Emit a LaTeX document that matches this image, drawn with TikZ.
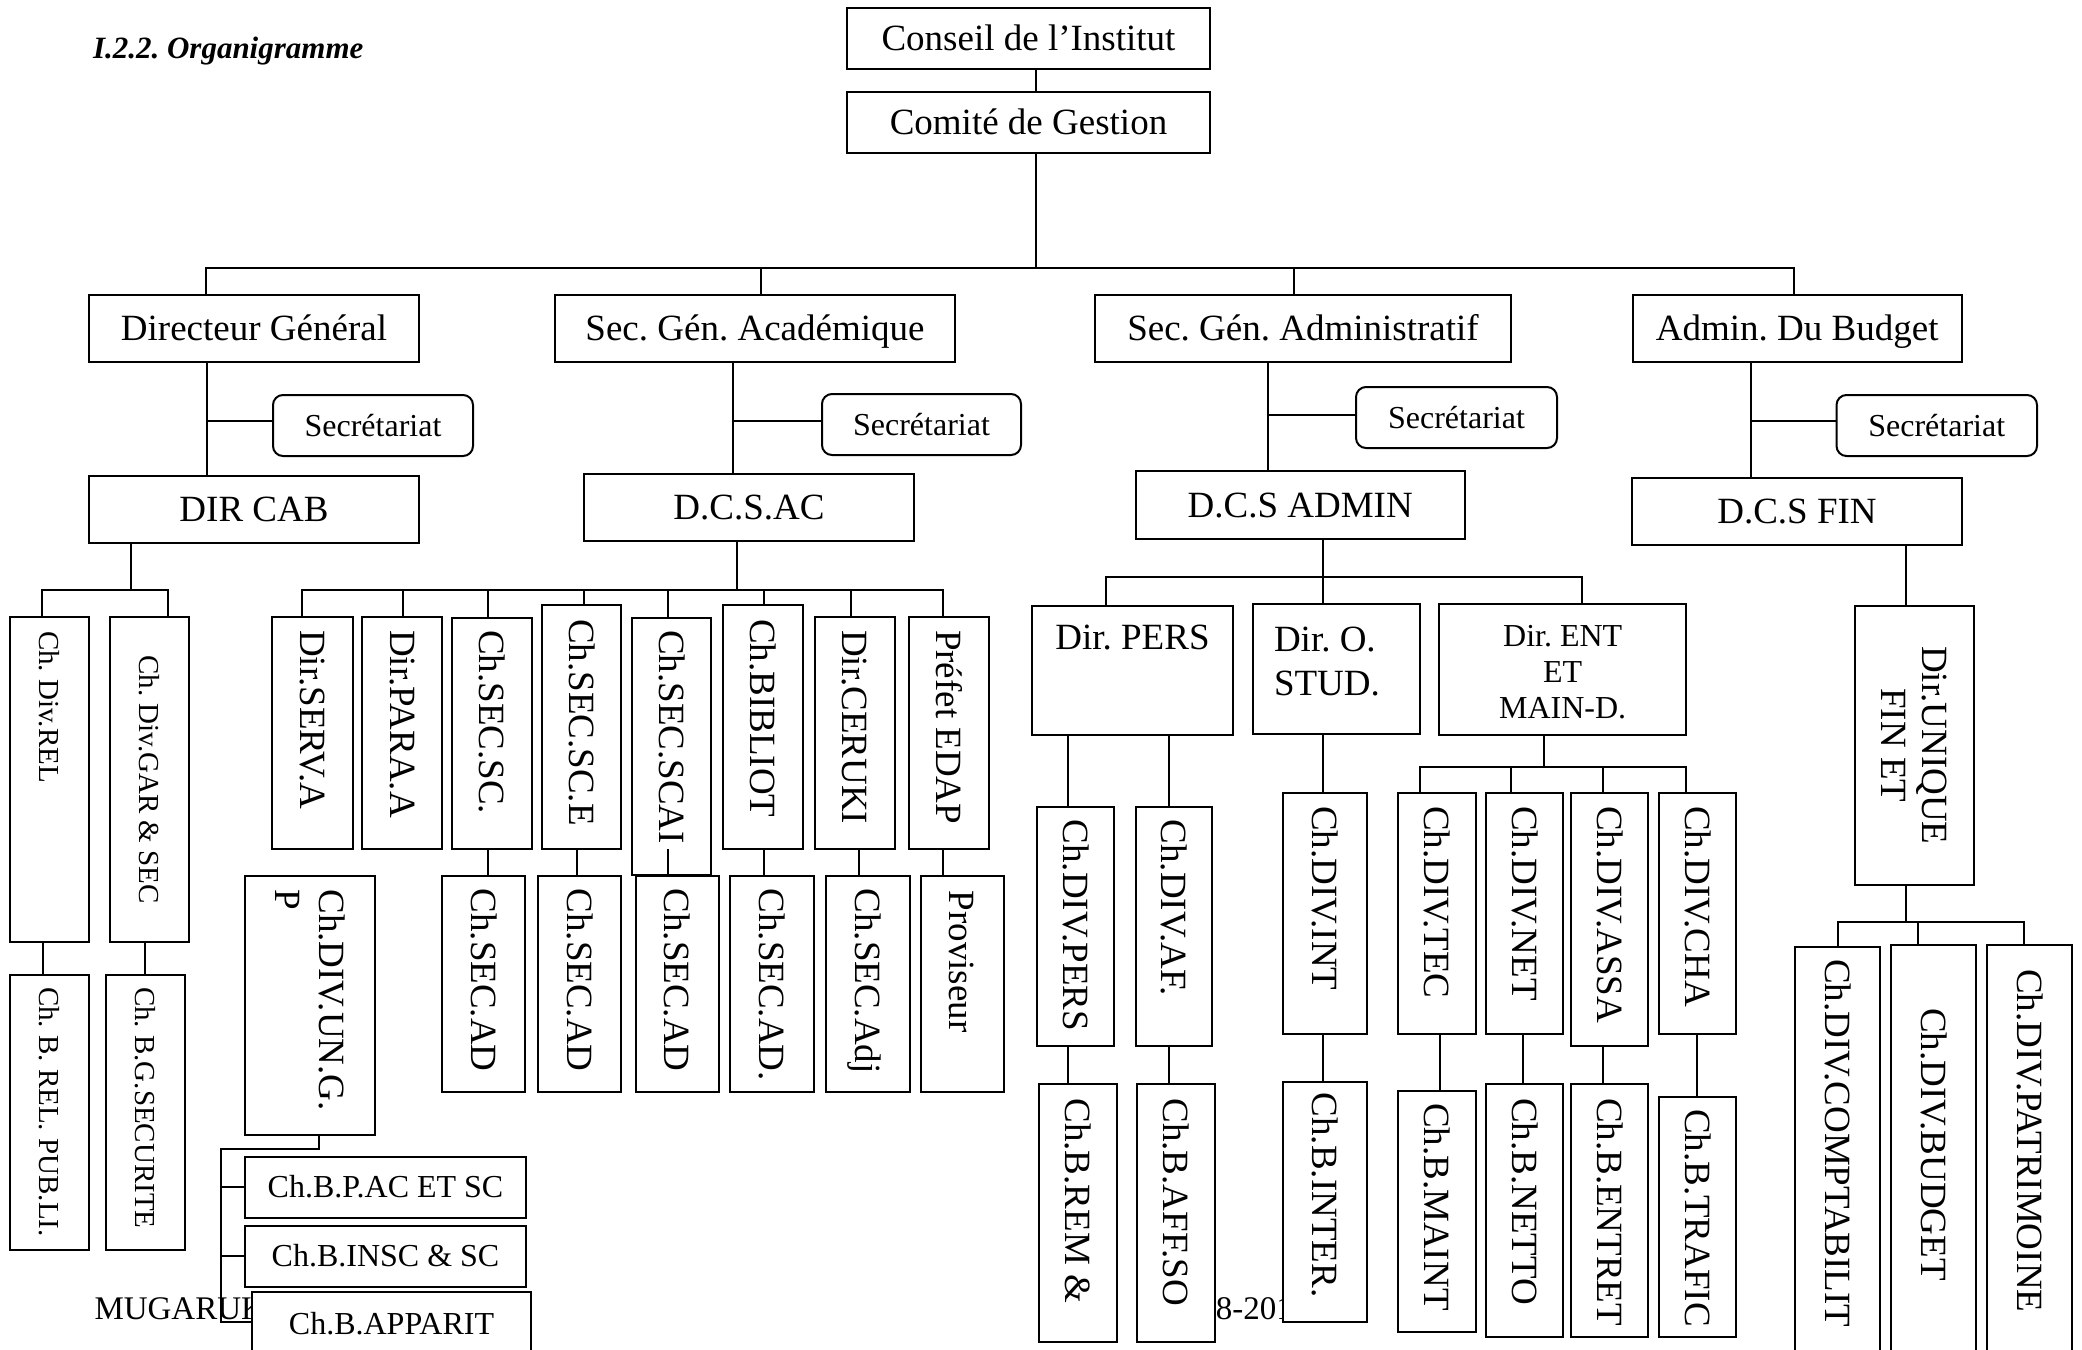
\documentclass[tikz,border=0pt]{standalone}
\usepackage{fontspec}
\setmainfont{Liberation Serif}
\frenchspacing
\newcommand\obox[7][]{\node[box,#1,anchor=north west,minimum width={(#5-#3)*0.5pt},minimum height={(#6-#4)*0.5pt}] (#2) at (#3,#4) {#7};}
\newcommand\vlab[4][]{\node[vt,#1] (#2-t) at ([yshift=-#3pt]#2.north) {#4};}
\begin{document}
\begin{tikzpicture}[x=0.5pt,y=-0.5pt,line width=1pt,
  box/.style={draw,fill=white,rectangle,inner sep=0pt,outer sep=0pt},
  rbox/.style={rounded corners=5pt},
  vt/.style={rotate=-90,anchor=west,inner sep=0pt},
  vtc/.style={rotate=-90,inner sep=0pt,align=center},
  bigf/.style={font=\fontsize{18.5}{22}\selectfont},
  big/.style={bigf,text height=12.2pt,text depth=0pt},
  mid/.style={font=\fontsize{16}{18}\selectfont,text height=10.6pt,text depth=0pt},
  sml/.style={font=\fontsize{14.5}{17}\selectfont,text height=9.6pt,text depth=0pt},
  foot/.style={font=\fontsize{16.5}{19}\selectfont,anchor=base west,inner sep=0pt}]
\useasboundingbox (0,0) rectangle (2082,1349);
\clip (0,0) rectangle (2082,1349);
\fill[white] (0,0) rectangle (2082,1349);
% title and footer
\node[anchor=base west,inner sep=0pt,font=\fontsize{15.5}{18}\selectfont\bfseries\itshape] (title) at (92,58) {I.2.2. Organigramme};
\node[foot] (foot1) at (93.5,1319) {MUGARUK};
\node[foot] (foot2) at (1214.8,1319) {8-201};
% top levels
\obox[big]{conseil}{847}{8}{1210}{69}{Conseil de l’Institut}
\obox[big]{comite}{847}{92}{1210}{153}{Comité de Gestion}
\obox[big]{dg}{89}{295}{419}{362}{Directeur Général}
\obox[big]{sga}{555}{295}{955}{362}{Sec. Gén. Académique}
\obox[big]{sgadm}{1095}{295}{1511}{362}{Sec. Gén. Administratif}
\obox[big]{ab}{1632.5}{295}{1962}{362}{Admin. Du Budget}
\obox[rbox,mid]{sdg}{273}{395}{473}{456}{Secrétariat}
\obox[rbox,mid]{ssga}{822}{394}{1021}{455}{Secrétariat}
\obox[rbox,mid]{ssgadm}{1356}{387}{1557}{448}{Secrétariat}
\obox[rbox,mid]{sab}{1836.5}{395}{2037}{456}{Secrétariat}
\obox[big]{dircab}{89}{476}{419}{543}{DIR CAB}
\obox[big]{dcsac}{584}{474}{914}{541}{D.C.S.AC}
\obox[big]{dcsadmin}{1135.5}{471}{1465}{539}{D.C.S ADMIN}
\obox[big]{dcsfin}{1632}{478}{1962}{545}{D.C.S FIN}
% DIR CAB group
\obox{rel}{9.6}{617}{89}{942}{}
\vlab[sml]{rel}{6.5}{Ch. Div.REL}
\obox{gar}{110}{617}{189}{942}{}
\node[vtc,sml] (gar-t) at (gar.center) {Ch. Div.GAR \& SEC};
\obox{brel}{9.6}{975}{89}{1250}{}
\vlab[sml]{brel}{5.5}{Ch. B. REL. PUB.LI.}
\obox{bgsec}{106}{975}{185}{1250}{}
\vlab[sml]{bgsec}{5.5}{Ch. B.G.SECURITE}
% D.C.S.AC group
\obox{serv}{272.4}{617}{353}{849}{}
\vlab[big]{serv}{6}{Dir.SERV.A}
\obox{para}{362.4}{617}{442}{849}{}
\vlab[big]{para}{6}{Dir.PARA.A}
\obox{secsc}{452}{618}{531.5}{849}{}
\vlab[big]{secsc}{5.5}{Ch.SEC.SC.}
\obox{secsce}{542}{605}{621}{849}{}
\vlab[big]{secsce}{6.5}{Ch.SEC.SC.E}
\obox{scai}{631.5}{618}{711}{874.5}{}
\vlab[big]{scai}{5.5}{Ch.SEC.SCAI}
\obox{biblio}{723}{605}{802.6}{849}{}
\vlab[big]{biblio}{6.5}{Ch.BIBLIOT}
\obox{ceruki}{815}{617}{894.6}{849}{}
\vlab[big]{ceruki}{6}{Dir.CERUKI}
\obox{prefet}{909}{617}{989}{849}{}
\vlab[big]{prefet}{6}{Préfet EDAP}
\obox{ad1}{442}{875.6}{525}{1091.6}{}
\vlab[big]{ad1}{6}{Ch.SEC.AD}
\obox{ad2}{538}{875.6}{621}{1091.6}{}
\vlab[big]{ad2}{6}{Ch.SEC.AD}
\obox{ad3}{635.5}{875.6}{718.5}{1091.6}{}
\vlab[big]{ad3}{6}{Ch.SEC.AD}
\obox{ad4}{730}{875.6}{813.6}{1091.6}{}
\vlab[big]{ad4}{6}{Ch.SEC.AD.}
\obox{adj}{826}{875.6}{909.6}{1091.6}{}
\vlab[big]{adj}{6}{Ch.SEC.Adj}
\obox{prov}{920.5}{875.6}{1003.6}{1091.6}{}
\vlab[big]{prov}{7}{Proviseur}
\obox{ung}{245}{875.5}{375}{1135}{}
\node[vt,bigf,align=left] (ung-t) at ([yshift=-6.5pt]ung.north) {Ch.DIV.UN.G.\\P};
\obox[mid]{bpac}{245}{1156.6}{526}{1217.5}{Ch.B.P.AC ET SC}
\obox[mid]{binsc}{245}{1226}{526}{1286.6}{Ch.B.INSC \& SC}
\obox[mid]{bapp}{252}{1292}{531}{1356}{Ch.B.APPARIT}
% D.C.S ADMIN group
\obox{pers}{1032}{605.5}{1233}{735}{}
\node[anchor=base,inner sep=0pt,bigf] (pers-t) at (1132.5,649) {Dir. PERS};
\obox{ostud}{1252.5}{603.5}{1419.6}{733.5}{}
\node[anchor=north west,inner sep=0pt,bigf,align=left] (ostud-t) at (1273,626) {Dir. O.\\STUD.};
\obox{ent}{1439.4}{603.5}{1686}{735}{}
\node[anchor=north,inner sep=0pt,font=\fontsize{16}{18}\selectfont,align=center] (ent-t) at (1562.7,624) {Dir. ENT\\ET\\MAIN-D.};
\obox{divpers}{1036.8}{806.8}{1114}{1045.7}{}
\vlab[big]{divpers}{6}{Ch.DIV.PERS}
\obox{divaf}{1135.5}{806.8}{1212.4}{1045.7}{}
\vlab[big]{divaf}{6}{Ch.DIV.AF.}
\obox{brem}{1039}{1084.4}{1116.6}{1342}{}
\vlab[big]{brem}{6.5}{Ch.B.REM \&}
\obox{baff}{1137}{1084.4}{1214.8}{1342}{}
\vlab[big]{baff}{6.5}{Ch.B.AFF.SO}
\obox{divint}{1283}{793}{1367}{1034}{}
\vlab[big]{divint}{6}{Ch.DIV.INT}
\obox{binter}{1283}{1081.8}{1367}{1321.7}{}
\vlab[big]{binter}{5}{Ch.B.INTER.}
\obox{tec}{1398}{793}{1475.8}{1034}{}
\vlab[big]{tec}{6}{Ch.DIV.TEC}
\obox{net}{1486}{793}{1563}{1034}{}
\vlab[big]{net}{6}{Ch.DIV.NET}
\obox{assa}{1571}{793}{1648}{1045.7}{}
\vlab[big]{assa}{6}{Ch.DIV.ASSA}
\obox{cha}{1658.5}{793}{1736}{1034}{}
\vlab[big]{cha}{6}{Ch.DIV.CHA}
\obox{maint}{1398}{1091}{1476}{1332}{}
\vlab[big]{maint}{5.5}{Ch.B.MAINT}
\obox{netto}{1486}{1084}{1563}{1337}{}
\vlab[big]{netto}{6.5}{Ch.B.NETTO}
\obox{entret}{1571}{1084}{1648}{1337}{}
\vlab[big]{entret}{6.5}{Ch.B.ENTRET}
\obox{trafic}{1658.5}{1097}{1736}{1337}{}
\vlab[big]{trafic}{5.5}{Ch.B.TRAFIC}
% D.C.S FIN group
\obox{uniq}{1854.7}{606}{1974}{884.7}{}
\node[vtc,font=\fontsize{18.5}{20.5}\selectfont] (uniq-t) at (uniq.center) {Dir.UNIQUE\\FIN ET};
\obox{compt}{1795}{946.6}{1880}{1360}{}
\vlab[big]{compt}{5.7}{Ch.DIV.COMPTABILIT}
\obox{budget}{1890.7}{945}{1976}{1360}{}
\vlab[big]{budget}{31}{Ch.DIV.BUDGET}
\obox{patri}{1986.7}{945}{2072}{1360}{}
\vlab[big]{patri}{11.5}{Ch.DIV.PATRIMOINE}
% ---------- connectors ----------
\coordinate (tc) at (1036,268);
\coordinate (tb1) at (206,268);
\coordinate (tb2) at (1794,268);
\coordinate (t2) at (761,268);
\coordinate (t3) at (1293.5,268);
\draw (conseil.south -| tc) -- (comite.north -| tc);
\draw (comite.south -| tc) -- (tc);
\draw (dg.north -| tb1) |- (tb2) -- (ab.north -| tb2);
\draw (sga.north -| t2) -- (t2);
\draw (sgadm.north -| t3) -- (t3);
% trunks with secretariats
\coordinate (k1) at (206.5,421);
\coordinate (k2) at (733,421);
\coordinate (k3) at (1268,415);
\coordinate (k4) at (1751,421);
\draw (dg.south -| k1) -- (dircab.north -| k1);
\draw (k1) -- (sdg.west |- k1);
\draw (sga.south -| k2) -- (dcsac.north -| k2);
\draw (k2) -- (ssga.west |- k2);
\draw (sgadm.south -| k3) -- (dcsadmin.north -| k3);
\draw (k3) -- (ssgadm.west |- k3);
\draw (ab.south -| k4) -- (dcsfin.north -| k4);
\draw (k4) -- (sab.west |- k4);
% DIR CAB
\coordinate (d0) at (131,590);
\coordinate (d1) at (42,590);
\coordinate (d2) at (168,590);
\draw (dircab.south -| d0) -- (d0);
\draw (rel.north -| d1) |- (d2) -- (gar.north -| d2);
\draw (rel.south -| 43,0) -- (brel.north -| 43,0);
\draw (gar.south -| 145,0) -- (bgsec.north -| 145,0);
% D.C.S.AC
\coordinate (c0) at (736.5,590);
\coordinate (cL) at (302,590);
\coordinate (cR) at (943,590);
\draw (dcsac.south -| c0) -- (c0);
\draw (serv.north -| cL) |- (cR) -- (prefet.north -| cR);
\foreach \n/\x in {para/402.7,secsc/487.8,secsce/583.8,scai/667.8,biblio/763.8,ceruki/851}
  \draw (\n.north -| \x,0) -- (\x,590);
\foreach \a/\b/\x in {secsc/ad1/487.8,secsce/ad2/577,biblio/ad4/763.8,ceruki/adj/859,prefet/prov/943}
  \draw (\a.south -| \x,0) -- (\b.north -| \x,0);
\coordinate (s3) at (668,849);
\draw (s3) -- (ad3.north -| s3);
\coordinate (u1) at (318.5,1149);
\coordinate (u2) at (220.6,1149);
\coordinate (u3) at (220.6,1322);
\draw (ung.south -| u1) -- (u1) -- (u2) -- (u3) -- (bapp.west |- u3);
\draw (bpac.west -| u2) -- (bpac.west);
\draw (binsc.west -| u2) -- (binsc.west);
% D.C.S ADMIN
\coordinate (a0) at (1323,577);
\coordinate (aL) at (1105.7,577);
\coordinate (aR) at (1581.5,577);
\draw (dcsadmin.south -| a0) -- (ostud.north -| a0);
\draw (pers.north -| aL) |- (aR) -- (ent.north -| aR);
\draw (pers.south -| 1068.4,0) -- (divpers.north -| 1068.4,0);
\draw (pers.south -| 1168.5,0) -- (divaf.north -| 1168.5,0);
\draw (divpers.south -| 1068.4,0) -- (brem.north -| 1068.4,0);
\draw (divaf.south -| 1168.5,0) -- (baff.north -| 1168.5,0);
\draw (ostud.south -| a0) -- (divint.north -| a0);
\draw (divint.south -| a0) -- (binter.north -| a0);
\coordinate (e0) at (1544,767);
\coordinate (eL) at (1419.6,767);
\coordinate (eR) at (1686.3,767);
\draw (ent.south -| e0) -- (e0);
\draw (tec.north -| eL) |- (eR) -- (cha.north -| eR);
\draw (net.north -| 1511,0) -- (1511,767);
\draw (assa.north -| 1602.7,0) -- (1602.7,767);
\foreach \a/\b/\x in {tec/maint/1440,net/netto/1523,assa/entret/1602.7,cha/trafic/1697}
  \draw (\a.south -| \x,0) -- (\b.north -| \x,0);
% D.C.S FIN
\coordinate (f0) at (1905.7,922);
\coordinate (fL) at (1837.7,922);
\coordinate (fR) at (2024.3,922);
\draw (dcsfin.south -| f0) -- (uniq.north -| f0);
\draw (uniq.south -| f0) -- (f0);
\draw (compt.north -| fL) |- (fR) -- (patri.north -| fR);
\draw (budget.north -| 1918.3,0) -- (1918.3,922);
\end{tikzpicture}
\end{document}
